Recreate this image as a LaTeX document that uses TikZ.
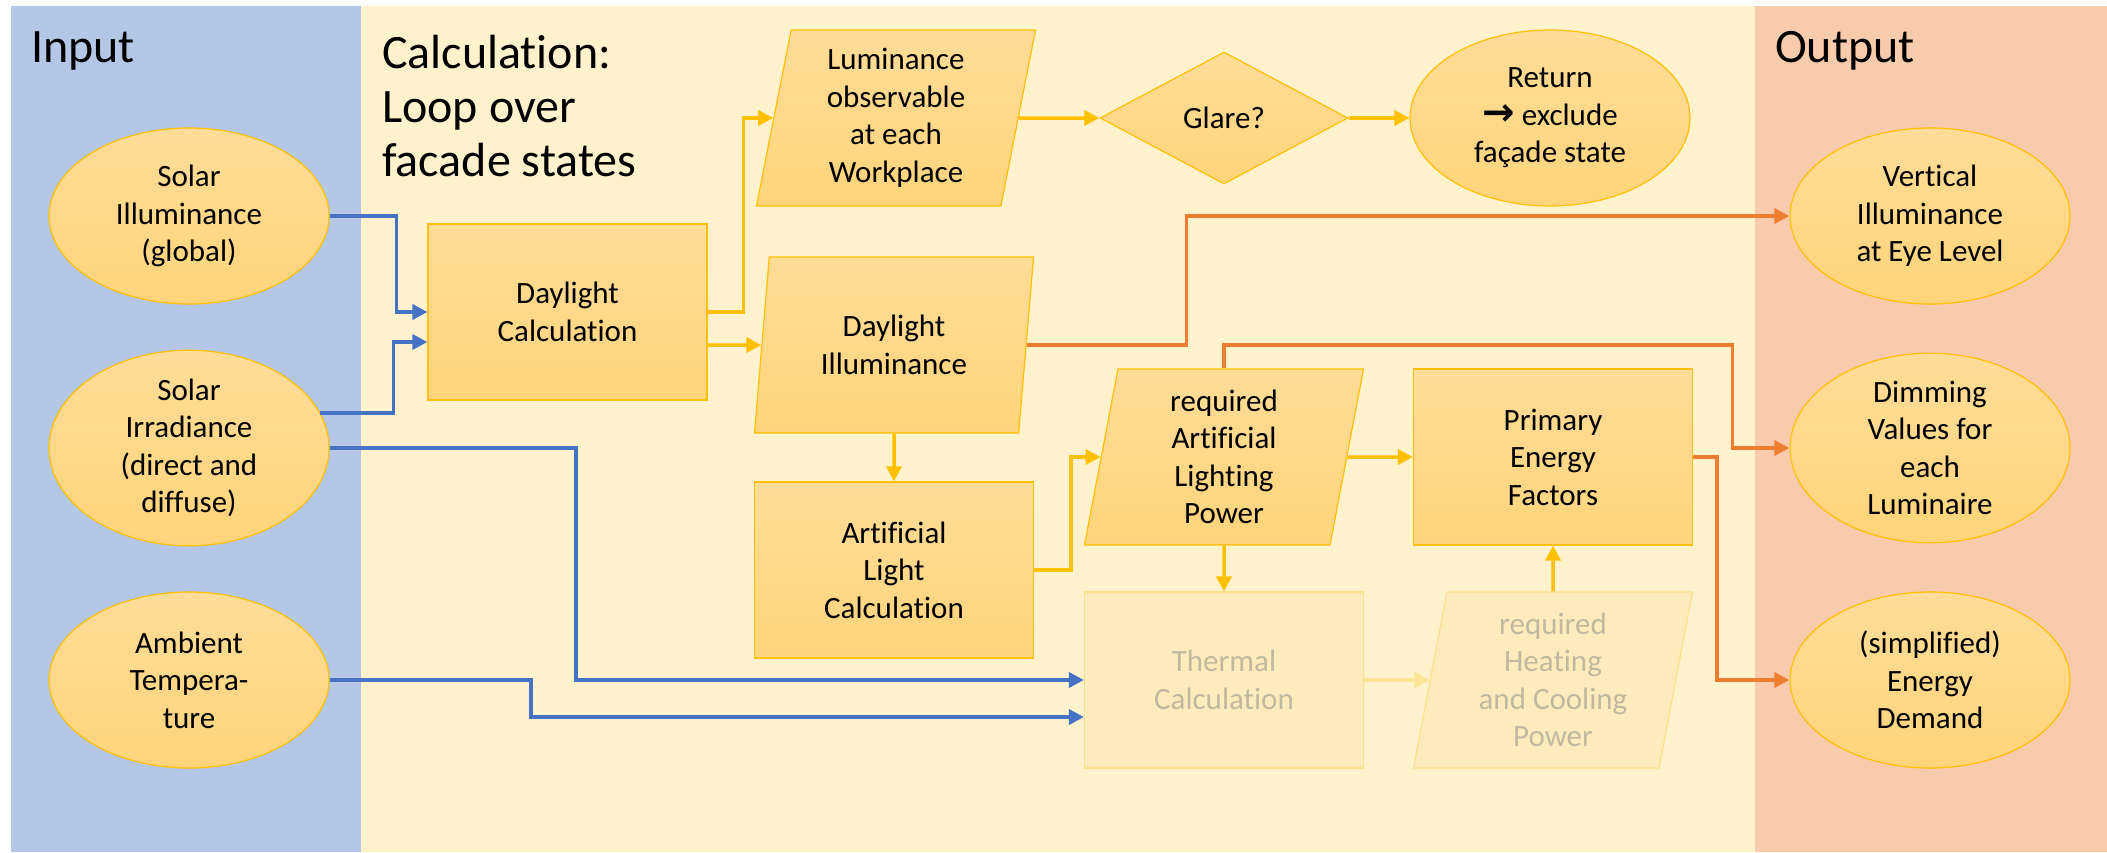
\documentclass[tikz,border=0pt]{standalone}
\usepackage{fontspec}
\setmainfont{Carlito}[Ligatures=NoCommon]
\newfontfamily\arrowfont{DejaVu Sans}
\usetikzlibrary{shapes.geometric,arrows.meta,calc}

\definecolor{panelblue}{RGB}{180,199,231}
\definecolor{panelyellow}{RGB}{255,242,204}
\definecolor{panelorange}{RGB}{248,203,173}
\definecolor{gold}{RGB}{255,192,0}
\definecolor{nodetop}{RGB}{255,220,152}
\definecolor{nodebottom}{RGB}{255,212,122}
\definecolor{linkblue}{RGB}{68,114,196}
\definecolor{linkorange}{RGB}{237,125,49}
\definecolor{fadefill}{RGB}{255,235,187}
\definecolor{fadeedge}{RGB}{255,224,140}
\definecolor{fadetext}{RGB}{192,185,160}
\definecolor{fadelink}{RGB}{255,228,150}

\newcommand\boxfont{\fontsize{31}{37.5}\selectfont}
\newcommand\headfont{\fontsize{48}{54}\selectfont}
\newcommand\thenarrow{\scalebox{1.25}{\arrowfont\bfseries →}}

\begin{document}
\begin{tikzpicture}[x=1pt,y=-1pt,
  shapebase/.style={draw=gold, line width=1.2pt, top color=nodetop,
    bottom color=nodebottom, align=center, font=\boxfont, inner sep=0pt},
  ovalbox/.style={shapebase, ellipse, minimum width=280pt, minimum height=176pt},
  procbox/.style={shapebase, rectangle, minimum width=279pt, minimum height=176pt,
    append after command={\pgfextra{\draw[#1, line width=1.2pt]
      ([xshift=35pt]\tikzlastnode.north west) -- ([xshift=35pt]\tikzlastnode.south west)
      ([xshift=-35pt]\tikzlastnode.north east) -- ([xshift=-35pt]\tikzlastnode.south east);}}},
  procbox/.default=gold,
  databox/.style={shapebase, trapezium, trapezium left angle=76,
    trapezium right angle=104, trapezium stretches body,
    minimum width=279pt, minimum height=176pt},
  decbox/.style={shapebase, diamond, minimum width=248pt, minimum height=132pt},
  faded/.style={draw=fadeedge, top color=fadefill, bottom color=fadefill, text=fadetext},
  heading/.style={font=\headfont, inner sep=0pt},
  link/.style={line width=3.5pt, -{Triangle[length=15pt,width=15pt]}},
  yellowlink/.style={link, draw=gold},
  bluelink/.style={link, draw=linkblue},
  orangelink/.style={link, draw=linkorange},
  fadedlink/.style={link, draw=fadelink}
]
\useasboundingbox (0,0) rectangle (2107,852);

% column backgrounds
\fill[panelblue] (11,6) rectangle (361,852);
\fill[panelyellow] (361,6) rectangle (1755,852);
\fill[panelorange] (1755,6) rectangle (2107,852);

% column headings
\node[heading, anchor=base west] (tin) at (31,62) {Input};
\node[heading, anchor=north west, align=left] (tcalc) at (382,35) {Calculation:\\Loop over\\facade states};
\node[heading, anchor=base west] (tout) at (1775,62) {Output};

% inputs
\node[ovalbox] (sill) at (189,216) {Solar\\Illuminance\\(global)};
\node[ovalbox] (sirr) at (189,448) {Solar\\Irradiance\\(direct and\\diffuse)};
\node[ovalbox] (amb) at (189,680) {Ambient\\Tempera-\\ture};

% calculation loop
\node[procbox] (dlc) at (567.5,312) {Daylight\\Calculation};
\node[databox] (lum) at (896,118) {Luminance\\observable\\at each\\Workplace};
\node[databox] (dli) at (894,345) {Daylight\\Illuminance};
\node[decbox] (glare) at (1224,118) {Glare?};
\node[ovalbox] (ret) at (1550,118) {Return\\\thenarrow\ exclude\\façade state};
\node[procbox] (alc) at (894,570) {Artificial\\Light\\Calculation};
\node[databox] (rap) at (1224,457) {required\\Artificial\\Lighting\\Power};
\node[procbox] (pef) at (1553,457) {Primary\\Energy\\Factors};
\node[procbox=fadeedge, faded] (thc) at (1224,680) {Thermal\\Calculation};
\node[databox, faded] (hcp) at (1553,680) {required\\Heating\\and Cooling\\Power};

% outputs
\node[ovalbox] (vil) at (1930,216) {Vertical\\Illuminance\\at Eye Level};
\node[ovalbox] (dim) at (1930,448) {Dimming\\Values for\\each\\Luminaire};
\node[ovalbox] (ede) at (1930,680) {(simplified)\\Energy\\Demand};

% input connectors
\draw[bluelink] (sill.east) -| ($(dlc.west)+(-31,0)$) -- (dlc.west);
\draw[bluelink] (sirr.15) -| ($(dlc.west)+(-34,30)$) -- ($(dlc.west)+(0,30)$);
\draw[bluelink] (sirr.east) -| ($(thc.west)+(-508,0)$) -- (thc.west);
\draw[bluelink] (amb.east) -| ($(thc.west)+(-553,37)$) -- ($(thc.west)+(0,37)$);

% loop connectors
\draw[yellowlink] (dlc.east) -- ++(36,0) |- (lum);
\draw[yellowlink] ($(dlc.east)+(0,33)$) -- (dli);
\draw[yellowlink] (lum) -- (glare);
\draw[yellowlink] (glare) -- (ret);
\draw[yellowlink] (dli) -- (alc);
\draw[yellowlink] (alc.east) -- ++(37,0) |- (rap);
\draw[yellowlink] (rap) -- (pef);
\draw[yellowlink] (rap) -- (thc);
\draw[yellowlink] (hcp) -- (pef);
\draw[fadedlink] (thc) -- (hcp);

% output connectors
\draw[orangelink] (dli) -| ($(vil.west)+(-603,0)$) -- (vil.west);
\draw[orangelink] (rap) |- ($(dim.west)+(-57,-103)$) |- (dim.west);
\draw[orangelink] (pef.east) -- ++(24,0) |- (ede.west);
\end{tikzpicture}
\end{document}
